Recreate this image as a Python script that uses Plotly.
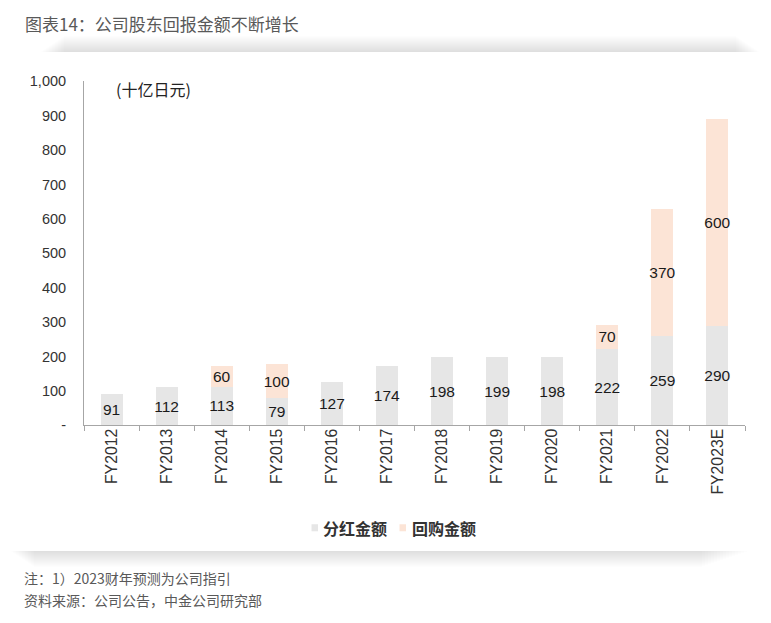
import plotly.graph_objects as go

categories = ["FY2012", "FY2013", "FY2014", "FY2015", "FY2016", "FY2017",
              "FY2018", "FY2019", "FY2020", "FY2021", "FY2022", "FY2023E"]
dividends = [91, 112, 113, 79, 127, 174, 198, 199, 198, 222, 259, 290]
buybacks = [None, None, 60, 100, None, None, None, None, None, 70, 370, 600]
y_tickvals = [0, 100, 200, 300, 400, 500, 600, 700, 800, 900, 1000]
y_ticktext = ["-", "100", "200", "300", "400", "500", "600", "700", "800", "900", "1,000"]
series_names = ["分红金额", "回购金额"]
series_colors = ["#e6e6e6", "#fce4d6"]

W, H = 771, 623
FONT = "Liberation Sans, Arial, Noto Sans CJK SC, sans-serif"
CJK = "Noto Sans CJK SC, Liberation Sans, sans-serif"

# the captured page shows the figure slightly compressed vertically;
# map target screen pixels to figure pixels
SY, OY = 0.971, 9.0

def px(x):
    return x / W

def py(t):
    return 1 - ((t - OY) / SY) / H

fig = go.Figure()
fig.add_trace(go.Bar(
    x=categories, y=dividends, name=series_names[0], showlegend=False,
    marker=dict(color=series_colors[0], line=dict(width=0)),
    text=[str(v) for v in dividends], textposition="inside",
    insidetextanchor="middle", textangle=0, constraintext="none",
    textfont=dict(size=15.5, color="#1a1a1a", family=FONT),
))
fig.add_trace(go.Bar(
    x=categories, y=buybacks, name=series_names[1], showlegend=False,
    marker=dict(color=series_colors[1], line=dict(width=0)),
    text=["" if v is None else str(v) for v in buybacks], textposition="inside",
    insidetextanchor="middle", textangle=0, constraintext="none",
    textfont=dict(size=15.5, color="#1a1a1a", family=FONT),
))

shapes = []
# soft shadow above and below the chart card
for k in range(1, 17):
    shapes.append(dict(type="rect", xref="paper", yref="paper",
                       x0=px(40 + k * 1.5), x1=px(760 - k * 1.5),
                       y0=py(53), y1=py(53 - k),
                       fillcolor="rgba(120,120,120,0.010)", line=dict(width=0), layer="below"))
    shapes.append(dict(type="rect", xref="paper", yref="paper",
                       x0=px(10 + k * 1.5), x1=px(750 - k * 3),
                       y0=py(550 + k), y1=py(550),
                       fillcolor="rgba(120,120,120,0.010)", line=dict(width=0), layer="below"))

# legend (small squares + labels)
legend_sq_x = [311.5, 399.5]
legend_txt_x = [321, 410]
for i in range(2):
    shapes.append(dict(type="rect", xref="paper", yref="paper",
                       x0=px(legend_sq_x[i]), x1=px(legend_sq_x[i] + 6.5),
                       y0=py(530.5), y1=py(523.5),
                       fillcolor=series_colors[i], line=dict(width=0)))

annotations = [
    dict(text="图表14：公司股东回报金额不断增长", xref="paper", yref="paper",
         x=px(22.5), y=py(24.5), xanchor="left", yanchor="middle", showarrow=False,
         font=dict(size=17, color="#595959", family=CJK)),
    dict(text="(十亿日元)", xref="paper", yref="paper",
         x=px(114), y=py(89.5), xanchor="left", yanchor="middle", showarrow=False,
         font=dict(size=16, color="#222222", family=CJK)),
    dict(text="注：1）2023财年预测为公司指引", xref="paper", yref="paper",
         x=px(22), y=py(577), xanchor="left", yanchor="middle", showarrow=False,
         font=dict(size=14, color="#595959", family=CJK)),
    dict(text="资料来源：公司公告，中金公司研究部", xref="paper", yref="paper",
         x=px(22), y=py(598.5), xanchor="left", yanchor="middle", showarrow=False,
         font=dict(size=14, color="#595959", family=CJK)),
]
for i in range(2):
    annotations.append(dict(text=series_names[i], xref="paper", yref="paper",
                            x=px(legend_txt_x[i]), y=py(527), xanchor="left", yanchor="middle",
                            showarrow=False,
                            font=dict(size=16, color="#333333", family=CJK, weight="bold")))

fig.update_layout(
    width=W, height=H,
    margin=dict(l=0, r=0, t=0, b=0),
    paper_bgcolor="white", plot_bgcolor="white",
    barmode="stack", bargap=0.6,
    showlegend=False,
    hovermode=False,
    shapes=shapes,
    annotations=annotations,
    font=dict(family=FONT, color="#333333"),
    xaxis=dict(domain=[px(84), px(745)], showline=True, linecolor="#a6a6a6", linewidth=1,
               ticks="outside", tickson="boundaries", ticklen=5, tickcolor="#a6a6a6",
               tickangle=-90, ticklabelstandoff=-4,
               tickfont=dict(size=15.8, color="#333333", family=FONT),
               showgrid=False, zeroline=False, fixedrange=True),
    yaxis=dict(domain=[py(425), py(82)], range=[0, 1000], showline=True,
               linecolor="#a6a6a6", linewidth=1, ticks="",
               tickvals=y_tickvals, ticktext=y_ticktext, ticklabelstandoff=14,
               tickfont=dict(size=14.5, color="#333333", family=FONT),
               showgrid=False, zeroline=False, fixedrange=True),
)

fig.write_html("out.html", config={"displayModeBar": False},
               post_script="document.body.style.margin='0';")
